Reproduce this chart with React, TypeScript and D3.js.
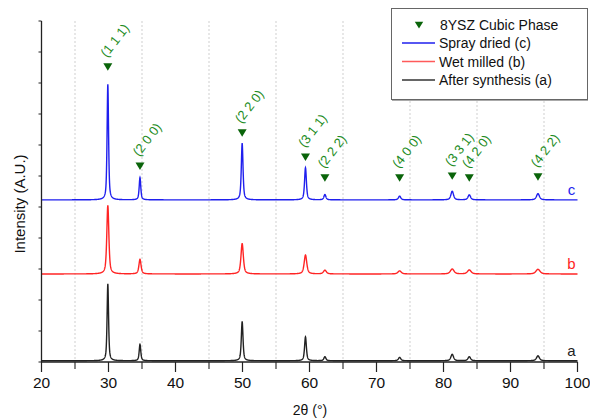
import React from "react";
import * as d3 from "d3";

// Peak table (8YSZ cubic phase reflections)
const peakLabels = ["(1 1 1)", "(2 0 0)", "(2 2 0)", "(3 1 1)", "(2 2 2)", "(4 0 0)", "(3 3 1)", "(4 2 0)", "(4 2 2)"];
const peakPositions = [29.9, 34.7, 49.95, 59.4, 62.3, 73.45, 81.3, 83.85, 94.1];
const markerLevels = [952, 632, 739, 661, 594, 594, 600, 594, 597];

// Series: baseline offset, peak heights, peak widths (FWHM, degrees)
const seriesNames = ["Spray dried (c)", "Wet milled (b)", "After synthesis (a)"];
const seriesTags = ["c", "b", "a"];
const seriesColors = ["#1f1fee", "#ff2424", "#222222"];
const legendColors = ["#1f1fee", "#ff5a5a", "#333333"];
const seriesOffsets = [523, 284, 4];
const heightsC = [373, 72, 182, 104, 17, 12, 28, 16, 20];
const heightsB = [221, 47, 98, 61, 12, 10, 16, 13, 15];
const heightsA = [248, 53, 126, 77, 13, 11, 21, 13, 16];
const widthsC = [0.26, 0.28, 0.3, 0.32, 0.36, 0.42, 0.46, 0.46, 0.52];
const widthsB = [0.36, 0.38, 0.42, 0.46, 0.52, 0.58, 0.64, 0.64, 0.72];
const widthsA = [0.26, 0.28, 0.3, 0.32, 0.36, 0.42, 0.46, 0.46, 0.52];

const xTicks = [20, 30, 40, 50, 60, 70, 80, 90, 100];
const xMinorTicks = [25, 35, 45, 55, 65, 75, 85, 95];
const yTicks = [0, 100, 200, 300, 400, 500, 600, 700, 800, 900, 1000, 1100];

const W = 590;
const H = 420;
const FONT = "'Liberation Sans', Arial, Helvetica, sans-serif";

function profile(t: number, offset: number, heights: number[], widths: number[]) {
  let v = offset;
  const eta = 0.6;
  for (let i = 0; i < peakPositions.length; i++) {
    const hw = widths[i] / 2;
    const u = (t - peakPositions[i]) / hw;
    const L = 1 / (1 + u * u);
    const G = Math.exp(-Math.LN2 * u * u);
    v += heights[i] * (eta * L + (1 - eta) * G);
  }
  return v;
}

export default function App() {
  const x = d3.scaleLinear().domain([20, 100]).range([41.5, 577.5]);
  const y = d3.scaleLinear().domain([0, 1100]).range([362, 21]);

  const grid = d3.range(20, 100.0001, 0.02);
  const allHeights = [heightsC, heightsB, heightsA];
  const allWidths = [widthsC, widthsB, widthsA];

  const line = d3
    .line<[number, number]>()
    .x((d) => x(d[0]))
    .y((d) => y(d[1]));

  const paths = seriesOffsets.map((off, si) =>
    line(grid.map((t) => [t, profile(t, off, allHeights[si], allWidths[si])] as [number, number]))
  );

  const tri = (cx: number, cy: number, s = 4.5) =>
    `M${cx - s},${cy - s * 0.8}L${cx + s},${cy - s * 0.8}L${cx},${cy + s * 0.85}Z`;

  const green = "#228b22";
  const darkGreen = "#0a640a";

  return (
    <svg width={W} height={H} style={{ position: "absolute", left: 0, top: 0, background: "#fff" }} fontFamily={FONT}>
      <rect x={0} y={0} width={W} height={H} fill="#fff" />
      {/* dotted grid */}
      {xMinorTicks.map((t) => (
        <line key={"g" + t} x1={x(t)} x2={x(t)} y1={y(1100)} y2={y(0)} stroke="#cfcfcf" strokeWidth={1} strokeDasharray="2,2" />
      ))}
      {/* series */}
      {paths.map((p, i) => (
        <path key={"s" + i} d={p || ""} fill="none" stroke={seriesColors[i]} strokeWidth={1.4} />
      ))}
      {/* series end tags */}
      {seriesTags.map((t, i) => (
        <text key={"t" + t} x={x(100) - 6} y={y(seriesOffsets[i]) - 5} fill={seriesColors[i]} fontSize={15} textAnchor="middle">
          {t}
        </text>
      ))}
      {/* markers and labels */}
      {peakPositions.map((p, i) => (
        <g key={"m" + i}>
          <path d={tri(x(p), y(markerLevels[i]))} fill={darkGreen} />
          <text
            transform={`translate(${x(p) - 1},${y(markerLevels[i]) - 9}) rotate(-52)`}
            fill={green}
            fontSize={13}
          >
            {peakLabels[i]}
          </text>
        </g>
      ))}
      {/* axes */}
      <line x1={x(20)} x2={x(20)} y1={y(1100)} y2={y(0)} stroke="#222" strokeWidth={1.3} />
      {yTicks.map((t) => (
        <line key={"yt" + t} x1={x(20) - 3} x2={x(20)} y1={y(t)} y2={y(t)} stroke="#222" strokeWidth={1} />
      ))}
      <line x1={x(20)} x2={x(100)} y1={y(0)} y2={y(0)} stroke="#222" strokeWidth={1.3} />
      {xTicks.map((t) => (
        <g key={"xt" + t}>
          <line x1={x(t)} x2={x(t)} y1={y(0)} y2={y(0) + 10} stroke="#222" strokeWidth={1.2} />
          <text x={x(t)} y={388} fontSize={15.5} textAnchor="middle" fill="#111">
            {t}
          </text>
        </g>
      ))}
      {xMinorTicks.map((t) => (
        <line key={"xm" + t} x1={x(t)} x2={x(t)} y1={y(0)} y2={y(0) + 7} stroke="#222" strokeWidth={1.1} />
      ))}
      <text x={310} y={415} fontSize={14} textAnchor="middle" fill="#111">
        2θ (°)
      </text>
      <text transform="translate(25,204) rotate(-90)" fontSize={15} textAnchor="middle" fill="#111">
        Intensity (A.U.)
      </text>
      {/* legend */}
      <g>
        <rect x={391.5} y={8.5} width={196} height={91} fill="#fff" stroke="#666" strokeWidth={1} />
        <line x1={392} x2={588} y1={100.5} y2={100.5} stroke="#aaa" strokeWidth={1} />
        <path d={tri(419, 25, 4.2)} fill={darkGreen} />
        <text x={440} y={30} fontSize={14} fill="#111">8YSZ Cubic Phase</text>
        {seriesNames.map((n, i) => (
          <g key={"l" + i}>
            <line x1={402} x2={435} y1={43 + i * 18.5} y2={43 + i * 18.5} stroke={legendColors[i]} strokeWidth={1.5} />
            <text x={439} y={48 + i * 18.5} fontSize={14} fill="#111">
              {n}
            </text>
          </g>
        ))}
      </g>
    </svg>
  );
}
